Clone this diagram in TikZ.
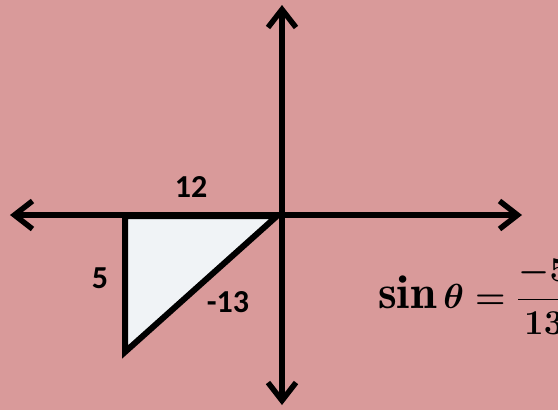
\documentclass[tikz,border=0pt]{standalone}
\usepackage{amsmath}
\usepackage{graphicx}
\usepackage{fontspec}
\newfontfamily\labfont{Carlito}
\usetikzlibrary{arrows.meta}
\definecolor{bgpink}{RGB}{217,154,154}
\definecolor{trifill}{RGB}{240,243,246}
\newsavebox{\formbox}
\begin{document}
\sbox{\formbox}{\scalebox{1.4}{\fontsize{34}{40}\selectfont\mathversion{bold}$\displaystyle \sin\theta = \frac{-5}{13}$}}%
\begin{tikzpicture}[x=1pt,y=-1pt,
  axis/.style={line width=5.5pt,draw=black,{Straight Barb[length=18pt,width=28pt]}-{Straight Barb[length=18pt,width=28pt]}},
  tri/.style={line width=6pt,draw=black,fill=trifill,line join=miter},
  lab/.style={font=\labfont\bfseries\fontsize{32}{38}\selectfont,inner sep=0pt}]
\useasboundingbox (0,0) rectangle (558,410);
\clip (0,0) rectangle (558,410);
\fill[bgpink] (0,0) rectangle (558,410);
\coordinate (L) at (10,215);
\coordinate (R) at (522,215);
\coordinate (T) at (282,5);
\coordinate (B) at (282,405);
\coordinate (A1) at (125,216);
\coordinate (A2) at (277,216);
\coordinate (A3) at (125,352);
\filldraw[tri] (A1) -- (A2) -- (A3) -- cycle;
\draw[axis] (L) -- (R);
\draw[axis] (B) -- (T);
\node[lab] (l12) at (191,187) {12};
\node[lab] (l5) at (100,278) {5};
\node[lab] (l13) at (228,302) {-13};
\node[anchor=base west,inner sep=0pt] (formula) at (378,308) {\usebox{\formbox}};
\end{tikzpicture}
\end{document}
